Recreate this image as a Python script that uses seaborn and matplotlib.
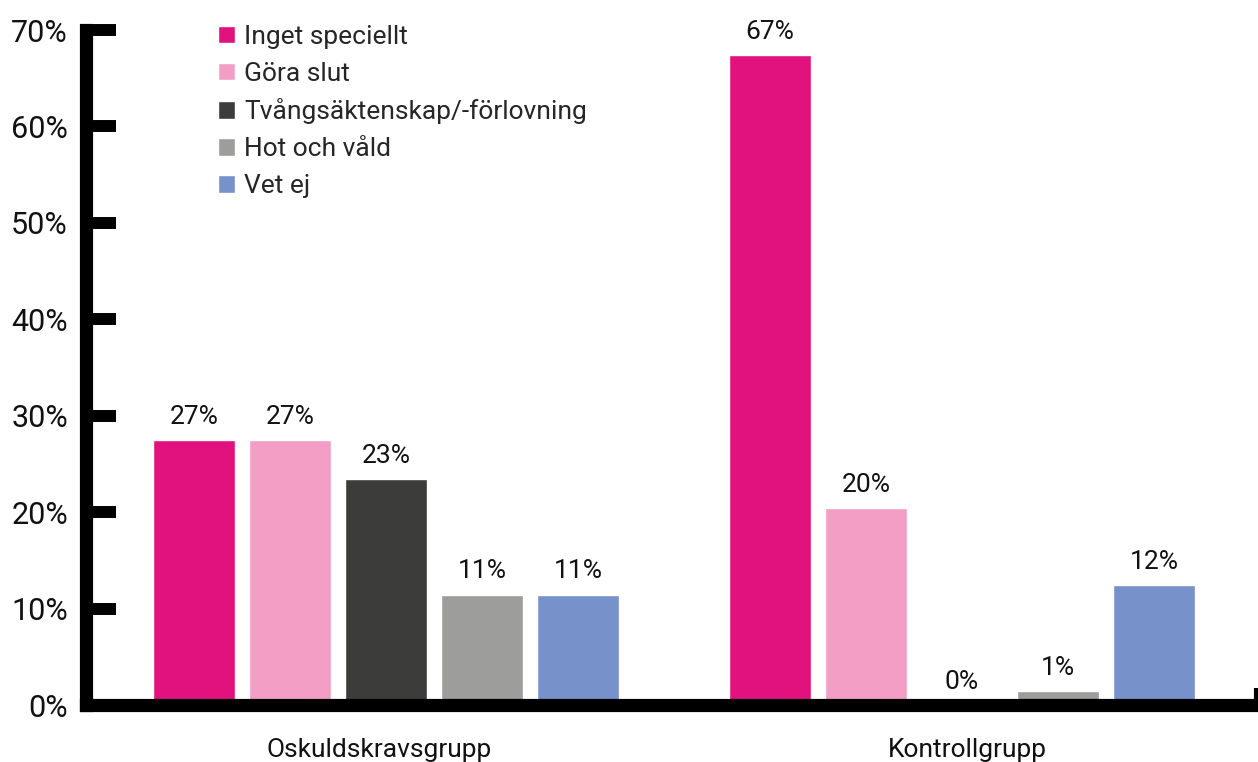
import matplotlib
matplotlib.use("Agg")
import matplotlib.pyplot as plt
import seaborn as sns
import pandas as pd

# data (percent)
groups = ["Oskuldskravsgrupp", "Kontrollgrupp"]
answers = ["Inget speciellt", "Göra slut", "Tvångsäktenskap/-förlovning",
           "Hot och våld", "Vet ej"]
oskuld_values = [27.45, 27.45, 23.45, 11.45, 11.45]
kontroll_values = [67.45, 20.45, 0.0, 1.45, 12.45]
y_ticks = [0, 10, 20, 30, 40, 50, 60, 70]

colors = ["#E1117E", "#F39EC5", "#3C3C3B", "#9D9D9C", "#7791CA"]

rows = []
for group, values in zip(groups, [oskuld_values, kontroll_values]):
    for answer, value in zip(answers, values):
        rows.append({"grupp": group, "svar": answer, "andel": value})
df = pd.DataFrame(rows)

sns.set_style("white")
plt.rcParams["font.family"] = ["Roboto", "DejaVu Sans"]

fig = plt.figure(figsize=(12.58, 7.62), dpi=100)
ax = fig.add_axes([0.0684, 0.0748, 0.9300, 0.8858])

sns.barplot(data=df, x="grupp", y="andel", hue="svar", order=groups,
            hue_order=answers, palette=colors, width=0.833, gap=0.146,
            saturation=1, errorbar=None, ax=ax)

for container in ax.containers:
    labels = [f"{bar.get_height():.0f}%" for bar in container]
    ax.bar_label(container, labels=labels, padding=8, fontsize=19,
                 color="#111111")

xlim = (-0.5208, 1.5104)
ax.set_xlim(*xlim)
ax.set_ylim(0, 70)
ax.set_yticks(y_ticks)
ax.set_yticklabels([f"{t}%" for t in y_ticks])
# category labels sit a little off the bar-group centres in the original
ax.set_xticks([-0.012, 1.010])
ax.set_xticklabels(groups)
ax.set_xlabel("")
ax.set_ylabel("")

for side in ["top", "right"]:
    ax.spines[side].set_visible(False)
for side in ["left", "bottom"]:
    ax.spines[side].set_linewidth(9.5)
    ax.spines[side].set_color("black")

ax.tick_params(axis="y", which="major", direction="in", length=21.5,
               width=8.6, color="black", labelsize=22, pad=13,
               labelcolor="#111111", left=True)
ax.tick_params(axis="x", which="major", length=0, labelsize=19, pad=24,
               labelcolor="#111111")
# small end mark on the category axis
ax.set_xticks([xlim[1]], minor=True)
ax.tick_params(axis="x", which="minor", direction="in", length=12,
               width=3, color="black", bottom=True)

handles, labels = ax.get_legend_handles_labels()
ax.legend(handles, labels, loc="upper left", bbox_to_anchor=(0.113, 1.008),
          frameon=False, fontsize=19, borderpad=0, borderaxespad=0,
          handlelength=0.64, handleheight=0.64, handletextpad=0.35,
          labelspacing=0.49)

fig.savefig("out.png", dpi=100)
